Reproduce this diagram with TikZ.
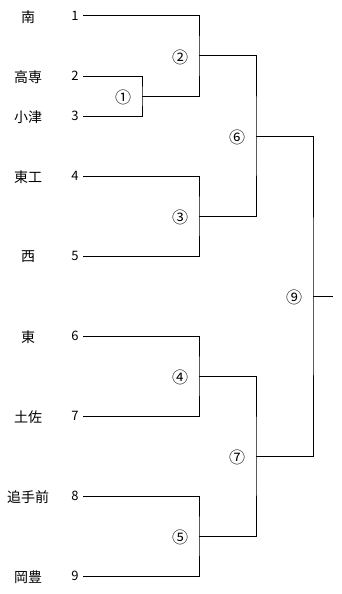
\documentclass[tikz,border=0pt]{standalone}
\usepackage{fontspec}
\setmainfont{Noto Sans CJK JP}
\begin{document}
\begin{tikzpicture}[x=1pt, y=-1pt, line width=1pt,
		team/.style={font=\fontsize{14}{14}\selectfont, inner sep=0pt},
		seed/.style={font=\fontsize{13}{13}\selectfont, inner xsep=4pt, inner ysep=0pt},
		round/.style={font=\fontsize{16}{16}\selectfont, inner sep=0pt}]
			\useasboundingbox (0,0) rectangle (342,594);

			\node[team] (t1) at (28, 17){南};
			\node[team] (t2) at (28, 77){高専};
			\node[team] (t3) at (28, 117){小津};
			\node[team] (t4) at (28, 177){東工};
			\node[team] (t5) at (28, 257){西};
			\node[team] (t6) at (28, 337){東};
			\node[team] (t7) at (28, 417){土佐};
			\node[team] (t8) at (28, 497){追手前};
			\node[team] (t9) at (28, 577){岡豊};

			\foreach \n/\y in {1/16, 2/76, 3/116, 4/176, 5/256, 6/336, 7/416, 8/496, 9/576}
				\node[seed] (s\n) at (75, \y){\n};

			\coordinate (m1) at (142, 96);
			\coordinate (m2) at (199, 56);
			\coordinate (m3) at (199, 216);
			\coordinate (m4) at (199, 376);
			\coordinate (m5) at (199, 536);
			\coordinate (m6) at (256, 136);
			\coordinate (m7) at (256, 456);
			\coordinate (m9) at (313, 296);
			\coordinate (end) at (333, 296);

			\node[round] (r1) at (123, 97){①};
			\node[round] (r2) at (180, 57){②};
			\node[round] (r3) at (180, 217){③};
			\node[round] (r4) at (180, 377){④};
			\node[round] (r5) at (180, 537){⑤};
			\node[round] (r6) at (237, 137){⑥};
			\node[round] (r7) at (237, 457){⑦};
			\node[round] (r9) at (294, 297){⑨};

			\draw (s2.east) -| (m1) |- (s3.east);
			\draw (s1.east) -| (m2) |- (m1);
			\draw (s4.east) -| (m3) |- (s5.east);
			\draw (s6.east) -| (m4) |- (s7.east);
			\draw (s8.east) -| (m5) |- (s9.east);
			\draw (m2) -| (m6) |- (m3);
			\draw (m4) -| (m7) |- (m5);
			\draw (m6) -| (m9) |- (m7);
			\draw (m9) -- (end);
		\end{tikzpicture}
\end{document}
